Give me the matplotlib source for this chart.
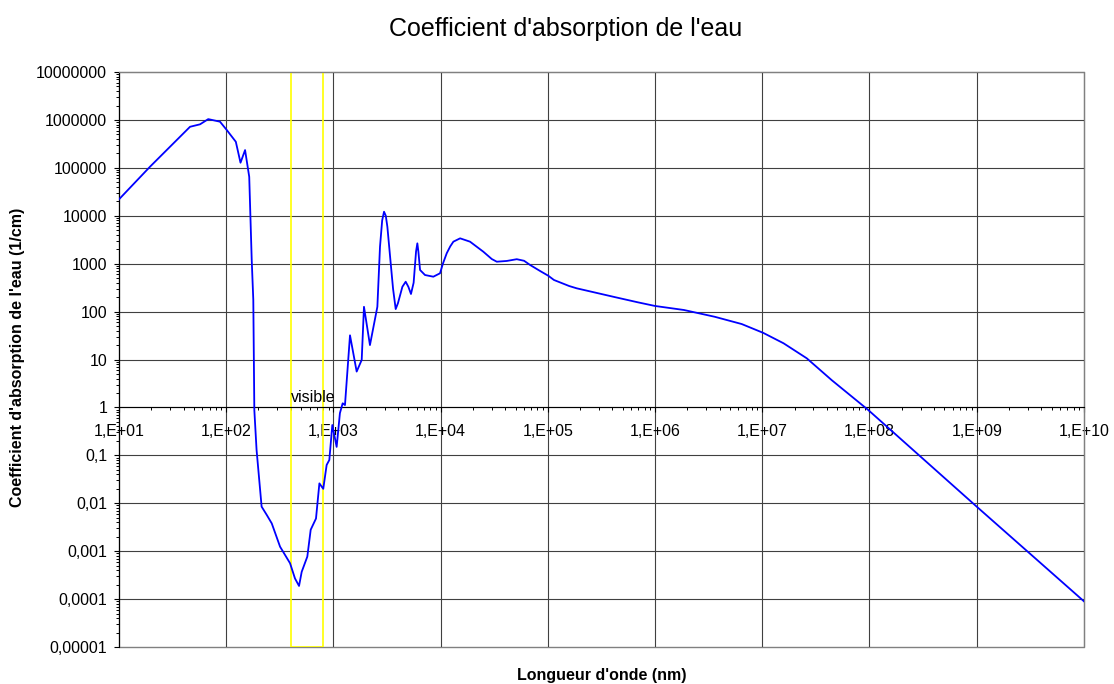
import matplotlib
matplotlib.use("Agg")
import matplotlib.pyplot as plt
from matplotlib.ticker import FixedLocator, LogLocator, NullFormatter
from matplotlib.patches import Rectangle

plt.rcParams['font.family'] = ['Liberation Sans', 'DejaVu Sans']

# Wavelength (nm) and absorption coefficient (1/cm)
wavelength_nm = [10, 19.5, 46, 57, 68, 87.5, 101, 123, 136, 150, 164, 173, 179, 183, 192,
                 214, 239, 266, 318, 394, 438, 478, 506, 571, 614, 688, 740, 804, 865, 916,
                 977, 1072, 1150, 1220, 1282, 1428, 1648, 1836, 1928, 2192, 2570, 2720,
                 2850, 2966, 3080, 3186, 3400, 3600, 3810, 4000, 4400, 4722, 5000, 5290,
                 5600, 5900, 6066, 6200, 6430, 7150, 8550, 9870, 10500, 11400, 12300,
                 13150, 15200, 18800, 25000, 30000, 33400, 41400, 51300, 60000, 68300,
                 85000, 1.01e5, 1.14e5, 1.58e5, 1.86e5, 4.24e5, 6.93e5, 1.0e6, 1.86e6,
                 3.6e6, 6.43e6, 1.02e7, 1.58e7, 2.6e7, 4.45e7, 9.7e7, 1.0e9, 1.0e10]
absorption = [2.2e4, 1.06e5, 7.2e5, 8.1e5, 1.04e6, 9.2e5, 6.2e5, 3.5e5, 1.28e5, 2.35e5,
              6.5e4, 1.2e3, 175, 0.88, 0.13, 0.0085, 0.0057, 0.0038, 0.00124, 0.00056,
              2.7e-4, 1.88e-4, 3.7e-4, 7.7e-4, 0.0028, 0.0048, 0.026, 0.020, 0.063, 0.08,
              0.43, 0.15, 0.76, 1.22, 1.12, 32, 5.6, 9.8, 126, 20, 126, 2260,
              8000, 12150, 10000, 5900, 1200, 300, 113, 150, 330, 420, 330, 233,
              400, 1800, 2660, 1800, 738, 580, 535, 630, 1000, 1650, 2300,
              2880, 3380, 2880, 1780, 1250, 1100, 1140, 1240, 1150, 940,
              700, 560, 457, 342, 306, 200, 156, 131, 108,
              78, 55, 36, 21.8, 10.6, 3.7, 0.89, 0.0085, 9.0e-5]

visible_range = [400, 800]

x_ticks = [1e1, 1e2, 1e3, 1e4, 1e5, 1e6, 1e7, 1e8, 1e9, 1e10]
x_tick_labels = ["1,E+01", "1,E+02", "1,E+03", "1,E+04", "1,E+05",
                 "1,E+06", "1,E+07", "1,E+08", "1,E+09", "1,E+10"]
y_ticks = [1e-5, 1e-4, 1e-3, 1e-2, 1e-1, 1, 1e1, 1e2, 1e3, 1e4, 1e5, 1e6, 1e7]
y_tick_labels = ["0,00001", "0,0001", "0,001", "0,01", "0,1", "1", "10", "100",
                 "1000", "10000", "100000", "1000000", "10000000"]

fig = plt.figure(figsize=(11.14, 6.84), dpi=100)
ax = fig.add_axes([0.1068, 0.0541, 0.973 - 0.1068, 0.8947 - 0.0541])
ax.set_xscale('log')
ax.set_yscale('log')
ax.set_xlim(1e1, 1e10)
ax.set_ylim(1e-5, 1e7)

grid_color = '#404040'
for xv in x_ticks[1:-1]:
    ax.axvline(xv, color=grid_color, lw=0.8, zorder=1)
for yv in y_ticks[1:-1]:
    ax.axhline(yv, color=grid_color, lw=0.8, zorder=1)

# visible band
ax.add_patch(Rectangle((visible_range[0], 1e-5), visible_range[1] - visible_range[0],
                       1e7 - 1e-5, fill=False, edgecolor='#FFFF00', lw=1.2, zorder=2))
ax.text(visible_range[0], 1.12, "visible", ha='left',
        va='bottom', fontsize=11.5, zorder=4)

ax.plot(wavelength_nm, absorption, color='#0000FF', lw=1.3, zorder=3)

# Frame
for s in ['top', 'right']:
    ax.spines[s].set_color('#808080')
ax.spines['left'].set_color('black')
ax.spines['bottom'].set_position(('data', 1))
ax.spines['bottom'].set_color('black')
ax.add_patch(Rectangle((0, 0), 1, 1, transform=ax.transAxes, fill=False,
                       edgecolor='#808080', lw=1.0, zorder=0, clip_on=False))

ax.xaxis.set_major_locator(FixedLocator(x_ticks))
ax.set_xticklabels(x_tick_labels)
ax.xaxis.set_minor_locator(LogLocator(base=10, subs=range(2, 10), numticks=50))
ax.xaxis.set_minor_formatter(NullFormatter())
ax.yaxis.set_major_locator(FixedLocator(y_ticks))
ax.set_yticklabels(y_tick_labels)
ax.yaxis.set_minor_locator(LogLocator(base=10, subs=range(2, 10), numticks=50))
ax.yaxis.set_minor_formatter(NullFormatter())

ax.tick_params(axis='both', which='major', direction='out', length=3.5, width=0.8,
               labelsize=11.5, colors='black')
ax.tick_params(axis='both', which='minor', direction='out', length=2.2, width=0.7)
ax.tick_params(axis='x', pad=8.5)
ax.tick_params(axis='y', pad=5)

fig.text(0.508, 0.958, "Coefficient d'absorption de l'eau", ha='center', va='center',
         fontsize=18)
fig.text(0.540, 0.013, "Longueur d'onde (nm)", ha='center', va='center',
         fontsize=11.5, fontweight='bold')
fig.text(0.016, 0.477, "Coefficient d'absorption de l'eau (1/cm)", ha='center',
         va='center', rotation=90, fontsize=11.5, fontweight='bold')

fig.savefig('out.png', dpi=100)
